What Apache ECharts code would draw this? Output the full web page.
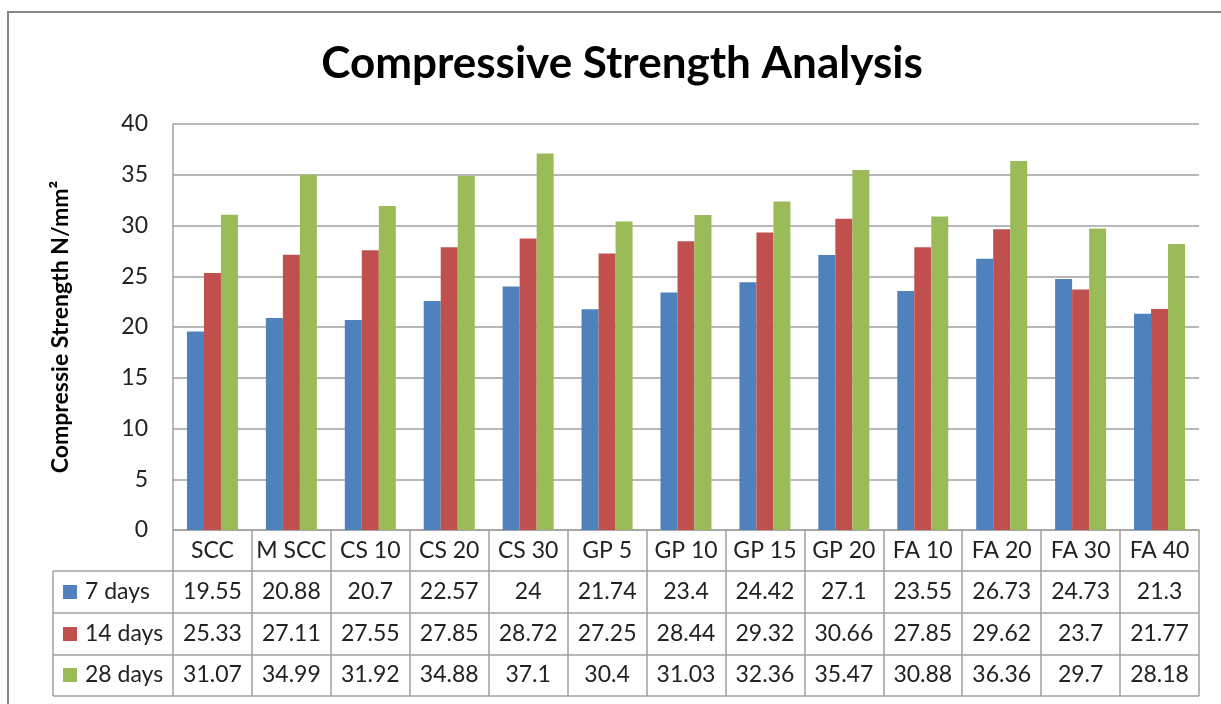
<!DOCTYPE html>
<html>
<head>
<meta charset="utf-8">
<script src="https://cdn.jsdelivr.net/npm/echarts@6/dist/echarts.min.js"></script>
<style>
  html, body { margin: 0; padding: 0; background: #fff; }
  #main { width: 1221px; height: 704px; }
</style>
</head>
<body>
<div id="main"></div>
<script>
// chart data
const categories = ['SCC', 'M SCC', 'CS 10', 'CS 20', 'CS 30', 'GP 5', 'GP 10', 'GP 15', 'GP 20', 'FA 10', 'FA 20', 'FA 30', 'FA 40'];
const seriesNames = ['7 days', '14 days', '28 days'];
const days7 = [19.55, 20.88, 20.7, 22.57, 24, 21.74, 23.4, 24.42, 27.1, 23.55, 26.73, 24.73, 21.3];
const days14 = [25.33, 27.11, 27.55, 27.85, 28.72, 27.25, 28.44, 29.32, 30.66, 27.85, 29.62, 23.7, 21.77];
const days28 = [31.07, 34.99, 31.92, 34.88, 37.1, 30.4, 31.03, 32.36, 35.47, 30.88, 36.36, 29.7, 28.18];
const yTicks = [0, 5, 10, 15, 20, 25, 30, 35, 40];

const allValues = [days7, days14, days28];
const colors = ['#4F81BD', '#C0504D', '#9BBB59'];
const font = 'Lato';
const lineColor = '#a0a0a0';

var chartDom = document.getElementById('main');
var myChart = echarts.init(chartDom);

// table geometry (pixels)
const plotLeft = 173, plotRight = 1199, plotBottom = 530;
const tableLeft = 53;
const rowLines = [571, 613, 655, 696];
const rowMargins = [21, 62, 104, 145]; // label centre offsets below the axis

// value rows of the data table, drawn as extra category axes
const tableAxes = allValues.map((vals, i) => ({
  type: 'category',
  gridIndex: 0,
  position: 'bottom',
  data: categories,
  axisLine: { show: false },
  axisTick: { show: false },
  splitLine: { show: false },
  axisLabel: {
    interval: 0,
    margin: rowMargins[i + 1],
    verticalAlign: 'middle',
    fontFamily: font,
    fontSize: 23,
    color: '#222'
    ,formatter: (val, idx) => String(vals[idx])
  }
}));

const graphics = [
  {
    type: 'rect',
    shape: { x: 8, y: 12, width: 1240, height: 720 },
    style: { fill: 'none', stroke: '#868686', lineWidth: 2 },
    silent: true
  },
  {
    type: 'line',
    shape: { x1: tableLeft, y1: rowLines[0], x2: tableLeft, y2: rowLines[3] },
    style: { stroke: lineColor, lineWidth: 1.5 }
  }
];
rowLines.forEach(y => {
  graphics.push({
    type: 'line',
    shape: { x1: tableLeft, y1: y, x2: plotRight, y2: y },
    style: { stroke: lineColor, lineWidth: 1.5 }
  });
});
seriesNames.forEach((name, i) => {
  const cy = plotBottom + rowMargins[i + 1];
  graphics.push({
    type: 'rect',
    shape: { x: 63, y: cy - 7, width: 14, height: 14 },
    style: { fill: colors[i] }
  });
  graphics.push({
    type: 'text',
    x: 85,
    y: cy,
    style: {
      text: name,
      fontFamily: font,
      fontSize: 23,
      fill: '#222',
      verticalAlign: 'middle'
    }
  });
});

var option = {
  animation: false,
  backgroundColor: '#fff',
  title: {
    text: 'Compressive Strength Analysis',
    left: 617,
    textAlign: 'center',
    top: 37,
    textStyle: {
      fontFamily: font,
      fontSize: 44,
      fontWeight: 'bold',
      color: '#000'
    }
  },
  grid: {
    left: plotLeft,
    right: 1221 - plotRight,
    top: 124,
    bottom: 704 - plotBottom,
    containLabel: false
  },
  xAxis: [
    {
      type: 'category',
      data: categories,
      axisLine: { show: true, lineStyle: { color: lineColor, width: 1.5 } },
      axisTick: {
        show: true,
        length: rowLines[3] - plotBottom,
        lineStyle: { color: lineColor, width: 1.5 }
      },
      axisLabel: {
        interval: 0,
        margin: rowMargins[0],
        verticalAlign: 'middle',
        fontFamily: font,
        fontSize: 23,
        color: '#222'
      }
    }
  ].concat(tableAxes),
  yAxis: {
    type: 'value',
    min: yTicks[0],
    max: yTicks[yTicks.length - 1],
    interval: yTicks[1] - yTicks[0],
    name: 'Compressie Strength N/mm²',
    nameLocation: 'middle',
    nameRotate: 90,
    nameGap: 101,
    nameTextStyle: {
      fontFamily: font,
      fontSize: 23,
      fontWeight: 'bold',
      color: '#000'
    },
    axisLine: { show: true, lineStyle: { color: lineColor, width: 1.5 } },
    axisTick: { show: false },
    axisLabel: {
      margin: 25,
      fontFamily: font,
      fontSize: 23,
      color: '#222'
    },
    splitLine: { lineStyle: { color: lineColor, width: 1.5 } }
  },
  series: seriesNames.map((name, i) => ({
    name: name,
    type: 'bar',
    data: allValues[i],
    barWidth: 17,
    barGap: '0%',
    itemStyle: { color: colors[i] }
  })),
  graphic: graphics
};

option && myChart.setOption(option);
</script>
</body>
</html>
